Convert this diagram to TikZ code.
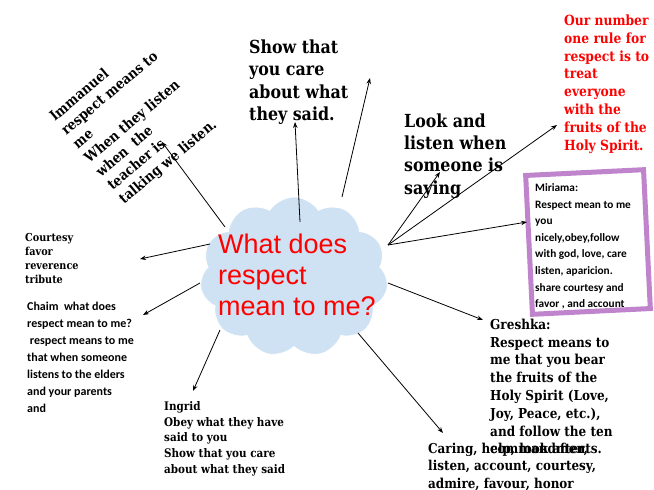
\documentclass[tikz,border=0pt]{standalone}
\usepackage{fontspec}
\usetikzlibrary{shapes.symbols,arrows.meta}
\newfontfamily\slab[FakeStretch=0.88]{DejaVu Serif}
\newfontfamily\hand{Carlito}
\newfontfamily\arialf{Liberation Sans}
\definecolor{cloudblue}{RGB}{207,226,243}
\definecolor{mpurple}{RGB}{192,132,204}
\definecolor{rred}{RGB}{255,0,0}
\tikzset{
  txt/.style={anchor=north west, inner sep=0pt, align=left, text=black},
  arr/.style={-{Stealth[length=6pt,width=4.5pt]}, line width=0.8pt, draw=black},
}
\begin{document}
\begin{tikzpicture}[x=1pt,y=-1pt]
\useasboundingbox (0,0) rectangle (654,490);
\fill[white] (0,0) rectangle (654,490);

% central cloud
\node[cloud, cloud puffs=11, cloud puff arc=115, aspect=1.175, fill=cloudblue, draw=white, line width=0.8pt,
      minimum width=188pt, minimum height=160pt, inner sep=0pt] (cloud) at (294,277) {};
\node[txt, text=rred, font=\arialf\fontsize{27}{31}\selectfont] (q) at (218,233.6) {What does\\respect\\mean to me?};

% text blocks
\node[txt, rotate=40, font=\slab\bfseries\fontsize{14.3}{18}\selectfont] (imm) at (47.5,113.5)
  {Immanuel\\respect means to\\me\\When they listen\\when\ \ the\\teacher is\\talking we listen.};
\node[txt, font=\slab\bfseries\fontsize{18}{22.5}\selectfont] (show) at (249,39.3)
  {Show that\\you care\\about what\\they said.};
\node[txt, font=\slab\bfseries\fontsize{18}{22.3}\selectfont] (look) at (404,113.3)
  {Look and\\listen when\\someone is\\saying};
\node[txt, text=rred, font=\slab\bfseries\fontsize{14}{17.9}\selectfont] (rule) at (564,14.4)
  {Our number\\one rule for\\respect is to\\treat\\everyone\\with the\\fruits of the\\Holy Spirit.};

\node[draw=mpurple, line width=5pt, fill=white, rotate=2.8, minimum width=118pt, minimum height=139pt, inner sep=0pt] (mbox) at (588,242) {};
\node[txt, font=\hand\bfseries\fontsize{11.3}{16.6}\selectfont] (mir) at (535,183.3)
  {Miriama:\\Respect mean to me\\you\\nicely,obey,follow\\with god, love, care\\listen, aparicion.\\share courtesy and\\favor , and account};

\node[txt, font=\slab\bfseries\fontsize{11}{14}\selectfont] (court) at (25,233.3)
  {Courtesy\\favor\\reverence\\tribute};
\node[txt, font=\hand\bfseries\fontsize{12}{17}\selectfont] (chaim) at (27,301.5)
  {Chaim\ \ what does\\respect mean to me?\\\ respect means to me\\that when someone\\listens to the elders\\and your parents\\and};
\node[txt, font=\slab\bfseries\fontsize{11.8}{15.7}\selectfont] (ingrid) at (164,401.4)
  {Ingrid\\Obey what they have\\said to you\\Show that you care\\about what they said};
\node[txt, font=\slab\bfseries\fontsize{13.7}{17.8}\selectfont] (gresh) at (490,318.6)
  {Greshka:\\Respect means to\\me that you bear\\the fruits of the\\Holy Spirit (Love,\\Joy, Peace, etc.),\\and follow the ten\\commandments.};
\node[txt, font=\slab\bfseries\fontsize{13.6}{17.5}\selectfont] (caring) at (428,442.6)
  {Caring, help, look after,\\listen, account, courtesy,\\admire, favour, honor};

% connector end points
\coordinate (s1) at (225,227); \coordinate (e1) at (162,142);
\coordinate (s2) at (300,222); \coordinate (e2) at (295,122);
\coordinate (s3) at (342,197); \coordinate (e3) at (370,78);
\coordinate (hub) at (388,245);
\coordinate (e4) at (440,172);
\coordinate (e5) at (557,125);
\coordinate (e6) at (527,222);
\coordinate (s7) at (210,244); \coordinate (e7) at (140,259);
\coordinate (s8) at (200,283); \coordinate (e8) at (143,315);
\coordinate (s9) at (220,330); \coordinate (e9) at (193,391);
\coordinate (s10) at (358,333); \coordinate (e10) at (443,433);
\coordinate (s11) at (388,283); \coordinate (e11) at (483,320);

\draw[arr] (s1) -- (e1);
\draw[arr] (s2) -- (e2);
\draw[arr] (s3) -- (e3);
\draw[arr] (hub) -- (e4);
\draw[arr] (hub) -- (e5);
\draw[arr] (hub) -- (e6);
\draw[arr] (s7) -- (e7);
\draw[arr] (s8) -- (e8);
\draw[arr] (s9) -- (e9);
\draw[arr] (s10) -- (e10);
\draw[arr] (s11) -- (e11);
\end{tikzpicture}
\end{document}
